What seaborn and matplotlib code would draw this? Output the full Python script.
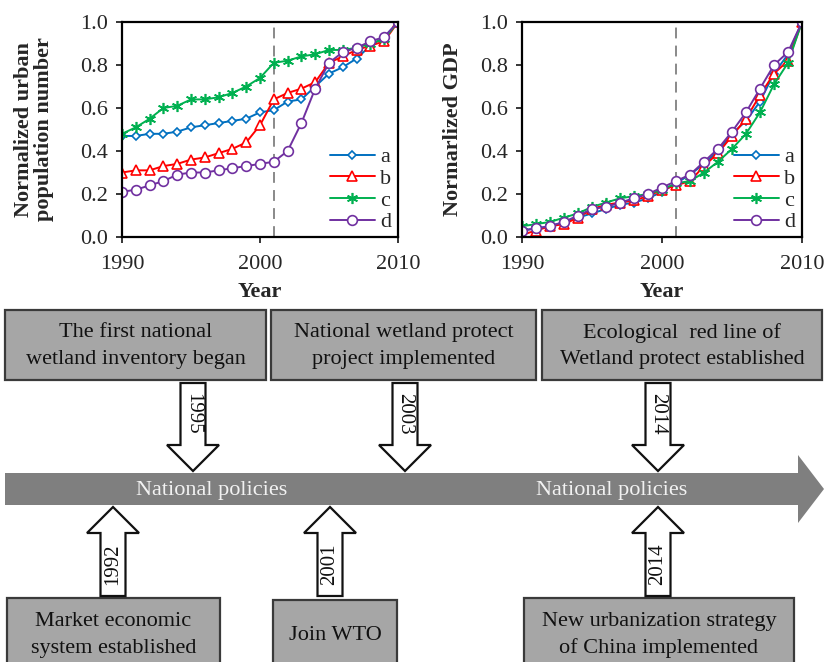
import matplotlib
matplotlib.use("Agg")
import matplotlib.pyplot as plt
import seaborn as sns
import pandas as pd
from matplotlib.patches import Rectangle, Polygon

# ---------------- data ----------------
years = list(range(1990, 2011))
series_names = ["a", "b", "c", "d"]

pop_a = [0.47, 0.47, 0.48, 0.48, 0.49, 0.51, 0.52, 0.53, 0.54, 0.55, 0.58, 0.59, 0.63, 0.64, 0.70, 0.76, 0.79, 0.83, 0.89, 0.93, 1.00]
pop_b = [0.30, 0.31, 0.31, 0.33, 0.34, 0.36, 0.37, 0.39, 0.41, 0.44, 0.52, 0.64, 0.67, 0.69, 0.72, 0.81, 0.84, 0.87, 0.89, 0.91, 1.00]
pop_c = [0.48, 0.51, 0.55, 0.60, 0.61, 0.64, 0.64, 0.65, 0.67, 0.70, 0.74, 0.81, 0.82, 0.84, 0.85, 0.87, 0.87, 0.88, 0.90, 0.92, 1.00]
pop_d = [0.21, 0.22, 0.24, 0.26, 0.29, 0.30, 0.30, 0.31, 0.32, 0.33, 0.34, 0.35, 0.40, 0.53, 0.69, 0.81, 0.86, 0.88, 0.91, 0.93, 1.00]

gdp_a = [0.03, 0.04, 0.05, 0.07, 0.09, 0.11, 0.13, 0.15, 0.16, 0.18, 0.21, 0.25, 0.29, 0.34, 0.40, 0.48, 0.54, 0.63, 0.76, 0.85, 1.00]
gdp_b = [0.01, 0.03, 0.05, 0.06, 0.09, 0.13, 0.15, 0.16, 0.17, 0.19, 0.22, 0.24, 0.26, 0.33, 0.39, 0.47, 0.55, 0.66, 0.76, 0.82, 1.00]
gdp_c = [0.05, 0.06, 0.07, 0.09, 0.11, 0.14, 0.16, 0.18, 0.19, 0.20, 0.22, 0.25, 0.26, 0.30, 0.35, 0.41, 0.48, 0.58, 0.71, 0.81, 1.00]
gdp_d = [0.03, 0.04, 0.05, 0.07, 0.10, 0.13, 0.14, 0.16, 0.18, 0.20, 0.23, 0.26, 0.29, 0.35, 0.41, 0.49, 0.58, 0.69, 0.80, 0.86, 1.00]

policy_year = 2001
x_ticks = [1990, 2000, 2010]
y_ticks = [0.0, 0.2, 0.4, 0.6, 0.8, 1.0]

top_texts = ["The first national\nwetland inventory began",
             "National wetland protect\nproject implemented",
             "Ecological  red line of\nWetland protect established"]
top_years = ["1995", "2003", "2014"]
bottom_texts = ["Market economic\nsystem established",
                "Join WTO",
                "New urbanization strategy\nof China implemented"]
bottom_years = ["1992", "2001", "2014"]
bar_label = "National policies"

# ---------------- style ----------------
sns.set_style("ticks")
plt.rcParams["font.family"] = ["Liberation Serif", "DejaVu Serif"]
plt.rcParams["font.size"] = 16
FS = 16

colors = {"a": "#0070C0", "b": "#FF0000", "c": "#00B050", "d": "#7030A0"}
markers = {"a": "D", "b": "^", "c": (6, 2, 0), "d": "o"}
msizes = {"a": 4.5, "b": 7, "c": 8, "d": 7}

W, H = 824, 662
fig = plt.figure(figsize=(W / 100, H / 100), dpi=100)

# ---------------- overlay diagram ----------------
ov = fig.add_axes([0, 0, 1, 1])
ov.set_xlim(0, W)
ov.set_ylim(H, 0)
ov.axis("off")

box_fc = "#a6a6a6"
box_ec = "#3a3a3a"

top_boxes = [(5, 266), (271, 536), (542, 822)]
top_box_y = (310, 380)
for (x0, x1), txt in zip(top_boxes, top_texts):
    ov.add_patch(Rectangle((x0, top_box_y[0]), x1 - x0, top_box_y[1] - top_box_y[0],
                           fc=box_fc, ec=box_ec, lw=1.6))
    ov.text((x0 + x1) / 2, (top_box_y[0] + top_box_y[1]) / 2 + 1, txt,
            ha="center", va="center", fontsize=FS, color="#111111", linespacing=1.55)

bottom_boxes = [(7, 220, 598), (273, 397, 600), (524, 794, 598)]
for (x0, x1, y0), txt in zip(bottom_boxes, bottom_texts):
    ov.add_patch(Rectangle((x0, y0), x1 - x0, 80, fc=box_fc, ec=box_ec, lw=1.6, clip_on=False))
    ov.text((x0 + x1) / 2, 635, txt, ha="center", va="center", fontsize=FS,
            color="#111111", linespacing=1.5)

# timeline bar with arrowhead
bar_col = "#7f7f7f"
ov.add_patch(Polygon([(5, 473), (798, 473), (798, 455), (824, 489), (798, 523),
                      (798, 505), (5, 505)], closed=True, fc=bar_col, ec="none"))
for cx in (212, 612):
    ov.text(cx, 490, bar_label, ha="center", va="center", fontsize=FS, color="#f2f2f2")


def block_arrow(cx, y_start, y_head, y_tip, label, rot):
    sw, hw = 12.5, 26
    pts = [(cx - sw, y_start), (cx + sw, y_start), (cx + sw, y_head), (cx + hw, y_head),
           (cx, y_tip), (cx - hw, y_head), (cx - sw, y_head)]
    ov.add_patch(Polygon(pts, closed=True, fc="white", ec="#111111", lw=1.6))
    ov.text(cx, (y_start + y_head) / 2, label, ha="center", va="center",
            rotation=rot, fontsize=15, color="#111111")


for cx, lab in zip((193, 405, 658), top_years):
    block_arrow(cx, 383, 445, 471, lab, -90)
for cx, lab in zip((113, 330, 658), bottom_years):
    block_arrow(cx, 596, 533, 507, lab, 90)

# ---------------- line charts ----------------
ax1 = fig.add_axes([122 / W, 1 - 237 / H, 276 / W, 215 / H])
ax2 = fig.add_axes([522 / W, 1 - 237 / H, 280 / W, 215 / H])

pop = {"a": pop_a, "b": pop_b, "c": pop_c, "d": pop_d}
gdp = {"a": gdp_a, "b": gdp_b, "c": gdp_c, "d": gdp_d}

for ax, data, ylab, lblx in ((ax1, pop, "Normalized urban\npopulation number", -0.245),
                             (ax2, gdp, "Normarlized GDP", -0.21)):
    for name in series_names:
        df = pd.DataFrame({"year": years, "value": data[name]})
        sns.lineplot(data=df, x="year", y="value", ax=ax, color=colors[name],
                     marker=markers[name], markersize=msizes[name],
                     markerfacecolor="white", markeredgecolor=colors[name],
                     markeredgewidth=1.2, linewidth=1.4, label=name)
    ax.axvline(policy_year, color="#808080", ls=(0, (6, 4)), lw=1.3, zorder=0)
    ax.set_xlim(1990, 2010)
    ax.set_ylim(0, 1)
    ax.set_xticks(x_ticks)
    ax.set_yticks(y_ticks)
    ax.set_yticklabels([f"{v:.1f}" for v in y_ticks])
    ax.tick_params(direction="out", length=4, width=1.3, labelsize=FS)
    ax.tick_params(axis="y", pad=6)
    ax.tick_params(axis="x", pad=9)
    for sp in ax.spines.values():
        sp.set_linewidth(1.6)
        sp.set_color("black")
        sp.set_visible(True)
    ax.set_xlabel("Year", fontsize=FS, fontweight="bold", labelpad=6)
    ax.set_ylabel(ylab, fontsize=FS, fontweight="bold", linespacing=1.0)
    ax.yaxis.set_label_coords(lblx, 0.5)
    ax.legend(loc="lower right", bbox_to_anchor=(1.02, -0.035), frameon=False,
              fontsize=FS, handlelength=2.0, handletextpad=0.25,
              labelspacing=0.05, borderaxespad=0.15)

fig.savefig("out.png", dpi=100)
